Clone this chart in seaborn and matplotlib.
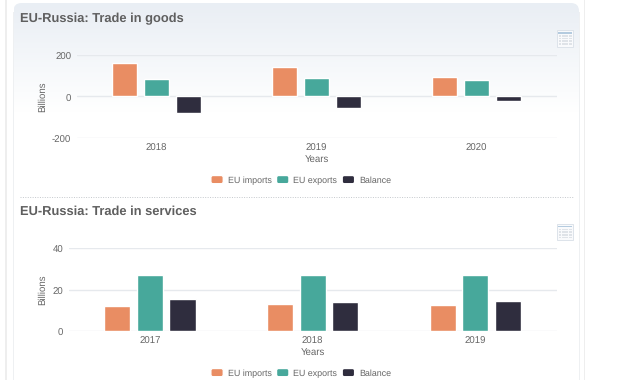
import numpy as np
import pandas as pd
import seaborn as sns
import matplotlib.pyplot as plt
from matplotlib.patches import FancyBboxPatch, Rectangle
from matplotlib.colors import LinearSegmentedColormap
from matplotlib.legend_handler import HandlerPatch
from matplotlib.transforms import ScaledTranslation

series = ['EU imports', 'EU exports', 'Balance']
colors = ['#E98D63', '#47A89B', '#2F2D3E']

goods_years = ['2018', '2019', '2020']
goods_imports = [158, 142, 93]
goods_exports = [82, 86, 78]
goods_balance = [-79, -58, -20]

services_years = ['2017', '2018', '2019']
services_imports = [11.9, 13.0, 12.6]
services_exports = [26.8, 26.8, 27.2]
services_balance = [15.4, 14.2, 14.6]

W, H = 640, 380
TEXT = '#666666'

sns.set_theme(style='white')
plt.rcParams['font.family'] = ['Liberation Sans', 'DejaVu Sans']
plt.rcParams['text.hinting'] = 'none'
plt.rcParams['axes.unicode_minus'] = False


def make_df(years, imports, exports, balance):
    frames = []
    for name, vals in zip(series, [imports, exports, balance]):
        frames.append(pd.DataFrame({'Year': years, 'Series': name, 'Value': vals}))
    return pd.concat(frames)


def px_axes(fig, left, top, right, bottom):
    return fig.add_axes([left / W, 1 - bottom / H, (right - left) / W, (bottom - top) / H])


def rounded_swatch(legend, orig_handle, xdescent, ydescent, width, height, fontsize):
    return FancyBboxPatch((-xdescent + 1, -ydescent + 1), width - 2, height - 2,
                          boxstyle='round,pad=1,rounding_size=1.5')


def draw_icon(bg, x, y):
    bg.add_patch(Rectangle((x, y), 16, 16.5, fc='#f9fafc', ec='#dde3ea', lw=0.7))
    bg.add_patch(Rectangle((x + 1, y + 2), 14, 1.6, fc='#b4cbdf', ec='none'))
    for r in range(4):
        for c in range(4):
            bg.add_patch(Rectangle((x + 1.5 + c * 3.4, y + 5 + r * 2.7), 2.8, 1.7, fc='#dfe3e8', ec='none'))


def draw_chart(fig, box, df, ylim, yticks, gap, ylabel_x, legend_y):
    ax = px_axes(fig, *box)
    ax.patch.set_alpha(0)
    sns.barplot(data=df, x='Year', y='Value', hue='Series', palette=colors, width=0.6, gap=gap,
                saturation=1, ax=ax, zorder=3)
    ax.set_ylim(*ylim)
    ax.set_yticks(yticks)
    ax.set_xlim(-0.5, 2.5)
    ax.grid(axis='y', color='#e6e9ed', lw=1, zorder=0)
    ax.set_axisbelow(True)
    sns.despine(ax=ax, left=True, bottom=True)
    ax.tick_params(axis='both', length=0, labelsize=6.9, labelcolor=TEXT)
    ax.tick_params(axis='y', pad=3.8)
    ax.tick_params(axis='x', pad=4.2)
    # y tick labels sit a little below their gridlines
    shift = ScaledTranslation(0, -1.5 / 100, fig.dpi_scale_trans)
    for lab in ax.get_yticklabels():
        lab.set_transform(lab.get_transform() + shift)
    ax.set_xlabel('Years', fontsize=6.9, color=TEXT, labelpad=0.8)
    ax.set_ylabel('Billions', fontsize=6.9, color=TEXT)
    ax.yaxis.set_label_coords((ylabel_x - box[0]) / (box[2] - box[0]), 0.5)
    handles, labels = ax.get_legend_handles_labels()
    ax.get_legend().remove()
    fig.legend(handles, labels, loc='center', bbox_to_anchor=(301 / W, 1 - legend_y / H), ncol=3,
               frameon=False, fontsize=6.4, labelcolor=TEXT, handlelength=1.4, handleheight=1.05,
               handletextpad=0.5, columnspacing=0.55, borderpad=0,
               handler_map={type(handles[0]): HandlerPatch(patch_func=rounded_swatch)})
    return ax


fig = plt.figure(figsize=(W / 100, H / 100), dpi=100, facecolor='white')

# page background, panel gradient and outer rules
bg = fig.add_axes([0, 0, 1, 1])
bg.set_xlim(0, W)
bg.set_ylim(H, 0)
bg.axis('off')
bg.add_patch(Rectangle((4.7, 0), 2, H, fc='#eeeeee', ec='none'))
bg.add_patch(Rectangle((583.8, 0), 1.5, H, fc='#eeeeee', ec='none'))
bg.add_patch(Rectangle((13, 12), 0.8, H, fc='#eef0f2', ec='none'))
bg.add_patch(Rectangle((578.7, 12), 0.8, H, fc='#eef0f2', ec='none'))
cmap = LinearSegmentedColormap.from_list('panel', ['#e9eef4', '#ffffff'])
grad = bg.imshow(np.linspace(1, 0, 128).reshape(-1, 1), extent=(13.5, 579, 112, 3), cmap=cmap,
                 aspect='auto', zorder=1, origin='lower')
clip = FancyBboxPatch((21.5, 11), 549.5, 200, boxstyle='round,pad=8,rounding_size=8', fc='none',
                      ec='none', transform=bg.transData)
bg.add_patch(clip)
grad.set_clip_path(clip)
bg.set_xlim(0, W)
bg.set_ylim(H, 0)
bg.plot([20, 573], [196.7, 196.7], color='#c4c8cc', lw=0.7, ls=(0, (1, 1.5)), zorder=2)
draw_icon(bg, 557, 30)
draw_icon(bg, 557, 223.5)
for y, title in [(18.5, 'EU-Russia: Trade in goods'), (211.5, 'EU-Russia: Trade in services')]:
    bg.text(20.5, y, title, fontsize=9.3, fontweight='bold', color='#5f5f5f', va='center', ha='left', zorder=3)

goods = make_df(goods_years, goods_imports, goods_exports, goods_balance)
services_df = make_df(services_years, services_imports, services_exports, services_balance)

draw_chart(fig, (76.5, 54.7, 556.5, 138), goods, (-200, 200), [-200, 0, 200], 0.2, 47, 180)
draw_chart(fig, (68.6, 248, 556.8, 331), services_df, (0, 40), [0, 20, 40], 0.2, 47, 373)

fig.savefig('out.png', dpi=100)
